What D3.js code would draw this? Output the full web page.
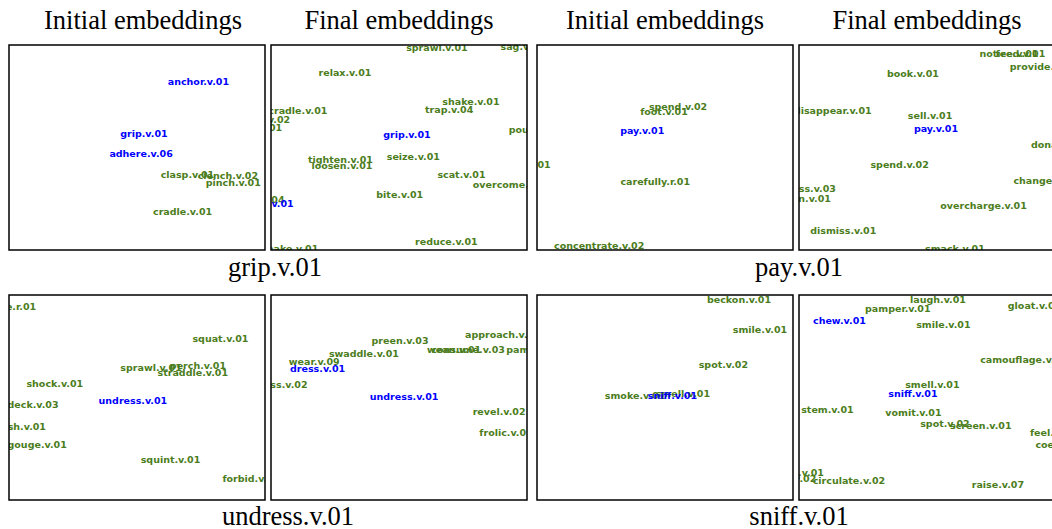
<!DOCTYPE html>
<html>
<head>
<meta charset="utf-8">
<script src="https://cdn.jsdelivr.net/npm/d3@7"></script>
<style>
  body { margin: 0; background: #fff; }
</style>
</head>
<body>
<div id="g"></div>
<script>
// 2-D projections of the embeddings, [word, x, y] on a 0..100 grid
var gripInitial = [
  ["anchor.v.01", 74.0, 82.4], ["grip.v.01", 52.7, 56.7], ["adhere.v.06", 51.6, 47.0],
  ["clasp.v.01", 69.7, 36.6], ["clench.v.02", 85.5, 36.1], ["pinch.v.01", 87.6, 33.0],
  ["cradle.v.01", 67.8, 18.7]
];
var gripFinal = [
  ["sprawl.v.01", 64.8, 98.9], ["sag.v.01", 98.4, 99.0], ["relax.v.01", 28.9, 86.7],
  ["shake.v.01", 78.1, 72.2], ["trap.v.04", 69.6, 68.4], ["cradle.v.01", 10.5, 67.8],
  ["clench.v.02", -4.3, 63.8], ["pinch.v.01", -6.4, 59.7], ["pounce.v.01", 105.5, 58.5],
  ["tighten.v.01", 27.1, 44.2], ["loosen.v.01", 27.7, 41.0], ["seize.v.01", 55.6, 45.5],
  ["scat.v.01", 74.4, 36.6], ["overcome.v.01", 94.1, 31.7], ["bite.v.01", 50.3, 26.8],
  ["hold.v.04", -4.3, 24.4], ["reduce.v.01", 68.5, 4.2], ["make.v.01", 7.8, 0.8],
  ["grip.v.01", 53.1, 56.2], ["anchor.v.01", -3.1, 22.6]
];
var payInitial = [
  ["spend.v.02", 55.1, 70.2], ["foot.v.01", 49.6, 67.7], ["bribe.v.01", -5.2, 41.5],
  ["carefully.r.01", 46.2, 33.3], ["concentrate.v.02", 24.3, 2.1], ["pay.v.01", 41.1, 58.4]
];
var payFinal = [
  ["notice.v.01", 82.0, 96.0], ["feed.v.01", 86.5, 96.0], ["provide.v.01", 95.3, 89.4],
  ["book.v.01", 44.5, 86.3], ["disappear.v.01", 13.2, 67.8], ["sell.v.01", 51.2, 65.7],
  ["donate.v.01", 103.0, 51.2], ["spend.v.02", 39.3, 41.5], ["change.v.01", 96.4, 34.1],
  ["express.v.03", 1.2, 29.8], ["return.v.01", 0.8, 25.2], ["overcharge.v.01", 72.1, 21.6],
  ["dismiss.v.01", 17.3, 9.4], ["smack.v.01", 60.9, 0.8], ["pay.v.01", 53.5, 59.0]
];
var undressInitial = [
  ["alone.r.01", 0.2, 94.3], ["squat.v.01", 82.6, 78.9], ["sprawl.v.01", 55.5, 64.5],
  ["perch.v.01", 73.8, 65.7], ["straddle.v.01", 71.8, 62.3], ["shock.v.01", 17.9, 56.6],
  ["bedeck.v.03", 6.8, 46.5], ["wash.v.01", 4.0, 35.6], ["gouge.v.01", 11.0, 27.0],
  ["squint.v.01", 63.1, 19.5], ["forbid.v.01", 94.7, 10.4], ["undress.v.01", 48.4, 48.4]
];
var undressFinal = [
  ["preen.v.03", 50.4, 78.0], ["approach.v.01", 90.6, 80.5], ["swaddle.v.01", 36.3, 71.2],
  ["wear.v.09", 16.9, 67.5], ["wean.v.01", 71.5, 73.2], ["consume.v.03", 77.0, 73.2],
  ["pamper.v.01", 104.7, 73.2], ["dress.v.02", 3.5, 56.4], ["revel.v.02", 89.1, 43.1],
  ["frolic.v.01", 91.8, 33.0], ["dress.v.01", 18.2, 64.0], ["undress.v.01", 52.0, 50.4]
];
var sniffInitial = [
  ["beckon.v.01", 78.9, 97.6], ["smile.v.01", 87.1, 82.9], ["spot.v.02", 72.8, 65.9],
  ["smoke.v.01", 38.3, 51.1], ["smell.v.01", 57.0, 51.9], ["sniff.v.01", 52.9, 50.7]
];
var sniffFinal = [
  ["laugh.v.01", 54.3, 97.6], ["pamper.v.01", 38.6, 93.5], ["gloat.v.01", 92.0, 94.6],
  ["smile.v.01", 56.4, 85.4], ["camouflage.v.01", 87.9, 68.6], ["smell.v.01", 52.1, 56.1],
  ["stem.v.01", 11.1, 44.2], ["vomit.v.01", 44.7, 42.6], ["spot.v.02", 57.0, 37.4],
  ["screen.v.01", 71.0, 36.1], ["feel.v.01", 99.2, 32.8], ["coerce.v.01", 104.3, 26.8],
  ["sulk.v.01", 0.4, 13.3], ["sob.v.02", -2.0, 10.4], ["circulate.v.02", 19.5, 9.4],
  ["raise.v.07", 77.7, 7.7], ["chew.v.01", 15.8, 87.3], ["sniff.v.01", 44.5, 52.0]
];

// words drawn in blue
var highlighted = ["grip.v.01", "anchor.v.01", "adhere.v.06", "pay.v.01",
                   "undress.v.01", "dress.v.01", "sniff.v.01", "chew.v.01"];

var titles = ["Initial embeddings", "Final embeddings", "Initial embeddings", "Final embeddings"];
var pairNames = ["grip.v.01", "pay.v.01", "undress.v.01", "sniff.v.01"];

var panels = [
  {data: gripInitial, col: 0, row: 0}, {data: gripFinal, col: 1, row: 0},
  {data: payInitial, col: 2, row: 0}, {data: payFinal, col: 3, row: 0},
  {data: undressInitial, col: 0, row: 1}, {data: undressFinal, col: 1, row: 1},
  {data: sniffInitial, col: 2, row: 1}, {data: sniffFinal, col: 3, row: 1}
];

var WIDTH = 1052, HEIGHT = 529;
var PANEL_W = 256, PANEL_H = 205;
var colLeft = [9, 271, 537, 799];
var rowTop = [45, 295];
var GREEN = "#4b7d20", BLUE = "#0000ff";

var svg = d3.select("#g").append("svg")
  .attr("width", WIDTH).attr("height", HEIGHT)
  .style("display", "block");

var defs = svg.append("defs");

panels.forEach(function(p, i) {
  var x0 = colLeft[p.col], y0 = rowTop[p.row];
  var x = d3.scaleLinear().domain([0, 100]).range([x0, x0 + PANEL_W]);
  var y = d3.scaleLinear().domain([0, 100]).range([y0 + PANEL_H, y0]);

  defs.append("clipPath").attr("id", "clip" + i)
    .append("rect")
    .attr("x", x0).attr("y", y0)
    .attr("width", PANEL_W).attr("height", PANEL_H);

  var g = svg.append("g").attr("clip-path", "url(#clip" + i + ")");

  // plain words first, highlighted ones on top
  var sorted = p.data.slice().sort(function(a, b) {
    return (highlighted.indexOf(a[0]) >= 0) - (highlighted.indexOf(b[0]) >= 0);
  });

  g.selectAll("text")
    .data(sorted)
    .enter()
    .append("text")
    .attr("x", function(d) { return x(d[1]); })
    .attr("y", function(d) { return y(d[2]); })
    .attr("dy", "0.36em")
    .attr("text-anchor", "middle")
    .attr("font-family", "DejaVu Sans")
    .attr("font-weight", "bold")
    .attr("font-size", 9.5)
    .attr("fill", function(d) { return highlighted.indexOf(d[0]) >= 0 ? BLUE : GREEN; })
    .text(function(d) { return d[0]; });

  svg.append("rect")
    .attr("x", x0).attr("y", y0)
    .attr("width", PANEL_W).attr("height", PANEL_H)
    .attr("fill", "none")
    .attr("stroke", "#000")
    .attr("stroke-width", 1.5);
});

// column titles
svg.selectAll(".title")
  .data(titles)
  .enter()
  .append("text")
  .attr("class", "title")
  .attr("x", function(d, i) { return colLeft[i] + PANEL_W / 2 + (i == 0 ? 6 : 0); })
  .attr("y", 29)
  .attr("text-anchor", "middle")
  .attr("font-family", "Liberation Serif")
  .attr("font-size", 26.5)
  .attr("fill", "#000")
  .text(function(d) { return d; });

// name of each word under its pair of panels
var nameX = [275, 799, 288, 799];
var nameY = [276, 276, 525, 525];
svg.selectAll(".name")
  .data(pairNames)
  .enter()
  .append("text")
  .attr("class", "name")
  .attr("x", function(d, i) { return nameX[i]; })
  .attr("y", function(d, i) { return nameY[i]; })
  .attr("text-anchor", "middle")
  .attr("font-family", "Liberation Serif")
  .attr("font-size", 26.5)
  .attr("fill", "#000")
  .text(function(d) { return d; });
</script>
</body>
</html>
